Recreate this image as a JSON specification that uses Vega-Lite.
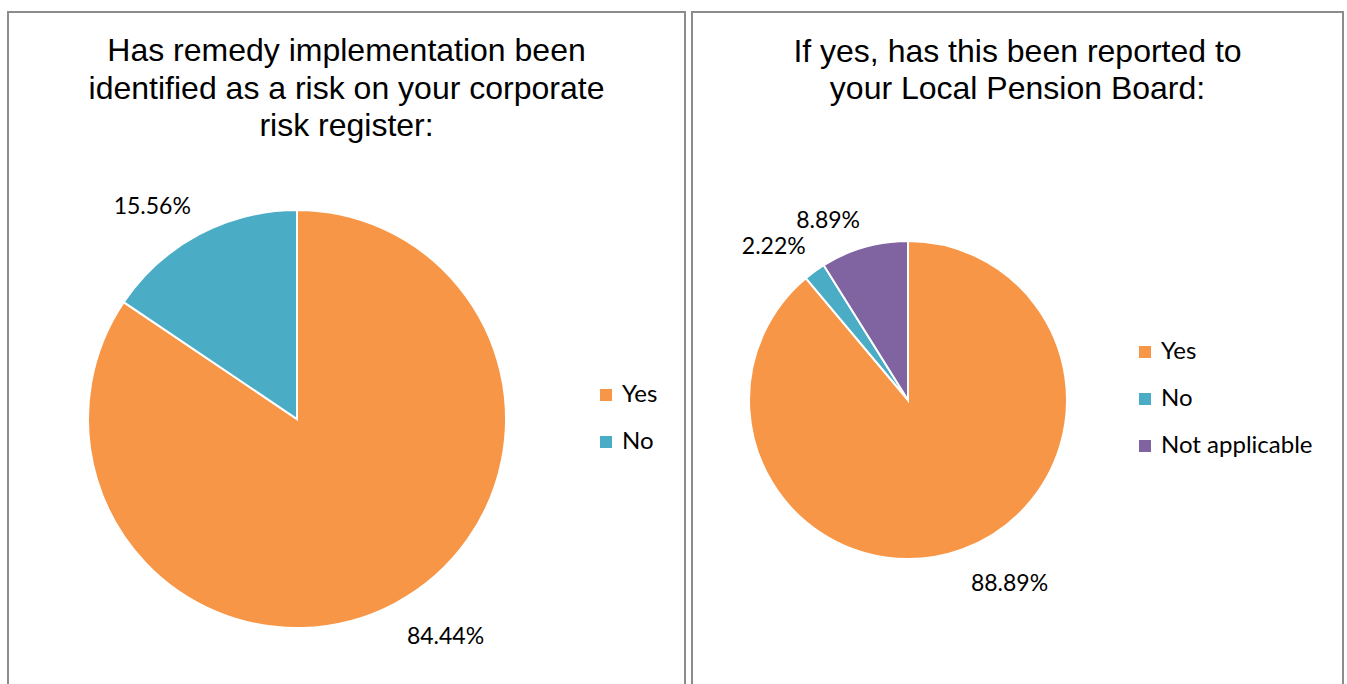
{
  "$schema": "https://vega.github.io/schema/vega-lite/v6.json",
  "background": "white",
  "padding": {"left": 7, "top": 11, "right": 0, "bottom": 0},
  "spacing": 5,
  "config": {
    "view": {"stroke": "#8c8c8c", "strokeWidth": 2},
    "legend": {"labelFont": "Lato", "labelFontSize": 24, "labelColor": "#000000", "symbolType": "square", "symbolSize": 144, "symbolStrokeWidth": 0, "rowPadding": 23, "labelOffset": 4, "padding": 0},
    "title": {"font": "Liberation Sans", "fontSize": 32, "fontWeight": "normal", "color": "#000000", "lineHeight": 37.5, "anchor": "middle", "frame": "group"}
  },
  "resolve": {"scale": {"color": "independent", "theta": "independent"}, "legend": {"color": "independent"}},
  "hconcat": [
    {
      "width": 677,
      "height": 700,
      "title": {"text": ["Has remedy implementation been", "identified as a risk on your corporate", "risk register:"], "offset": -131},
      "data": {"values": [
        {"answer": "Yes", "share": 0.8444, "rank": 1},
        {"answer": "No", "share": 0.1556, "rank": 2}
      ]},
      "encoding": {
        "theta": {"field": "share", "type": "quantitative", "stack": true},
        "order": {"field": "rank", "type": "quantitative"},
        "x": {"value": 289},
        "y": {"value": 407}
      },
      "layer": [
        {
          "mark": {"type": "arc", "radius": 209, "stroke": "white", "strokeWidth": 2},
          "encoding": {
            "color": {"field": "answer", "type": "nominal",
              "scale": {"domain": ["Yes", "No"], "range": ["#F79646", "#4BACC6"]},
              "legend": {"title": null, "orient": "none", "legendX": 586, "legendY": 371}}
          }
        },
        {
          "mark": {"type": "text", "radius": 234, "align": "left", "baseline": "top", "font": "Lato", "fontSize": 23, "color": "#000000"},
          "encoding": {
            "text": {"condition": {"test": "datum.answer !== 'Yes'", "value": ""}, "field": "share", "type": "quantitative", "format": ".2%"}
          }
        },
        {
          "mark": {"type": "text", "radius": 226, "align": "right", "baseline": "bottom", "font": "Lato", "fontSize": 23, "color": "#000000"},
          "encoding": {
            "text": {"condition": {"test": "datum.answer === 'Yes'", "value": ""}, "field": "share", "type": "quantitative", "format": ".2%"}
          }
        }
      ]
    },
    {
      "width": 651,
      "height": 700,
      "title": {"text": ["If yes, has this been reported to", "your Local Pension Board:"], "offset": -94},
      "data": {"values": [
        {"answer": "Yes", "share": 0.8889, "rank": 1},
        {"answer": "No", "share": 0.0222, "rank": 2},
        {"answer": "Not applicable", "share": 0.0889, "rank": 3}
      ]},
      "encoding": {
        "theta": {"field": "share", "type": "quantitative", "stack": true},
        "order": {"field": "rank", "type": "quantitative"},
        "x": {"value": 216},
        "y": {"value": 388}
      },
      "layer": [
        {
          "mark": {"type": "arc", "radius": 159, "stroke": "white", "strokeWidth": 2},
          "encoding": {
            "color": {"field": "answer", "type": "nominal",
              "scale": {"domain": ["Yes", "No", "Not applicable"], "range": ["#F79646", "#4BACC6", "#8064A2"]},
              "legend": {"title": null, "orient": "none", "legendX": 441, "legendY": 328}}
          }
        },
        {
          "mark": {"type": "text", "radius": 184, "align": "left", "baseline": "top", "font": "Lato", "fontSize": 23, "color": "#000000"},
          "encoding": {
            "text": {"condition": {"test": "datum.answer !== 'Yes'", "value": ""}, "field": "share", "type": "quantitative", "format": ".2%"}
          }
        },
        {
          "mark": {"type": "text", "radius": 174, "align": "right", "baseline": "bottom", "font": "Lato", "fontSize": 23, "color": "#000000"},
          "encoding": {
            "text": {"condition": {"test": "datum.answer === 'Yes'", "value": ""}, "field": "share", "type": "quantitative", "format": ".2%"}
          }
        }
      ]
    }
  ]
}
